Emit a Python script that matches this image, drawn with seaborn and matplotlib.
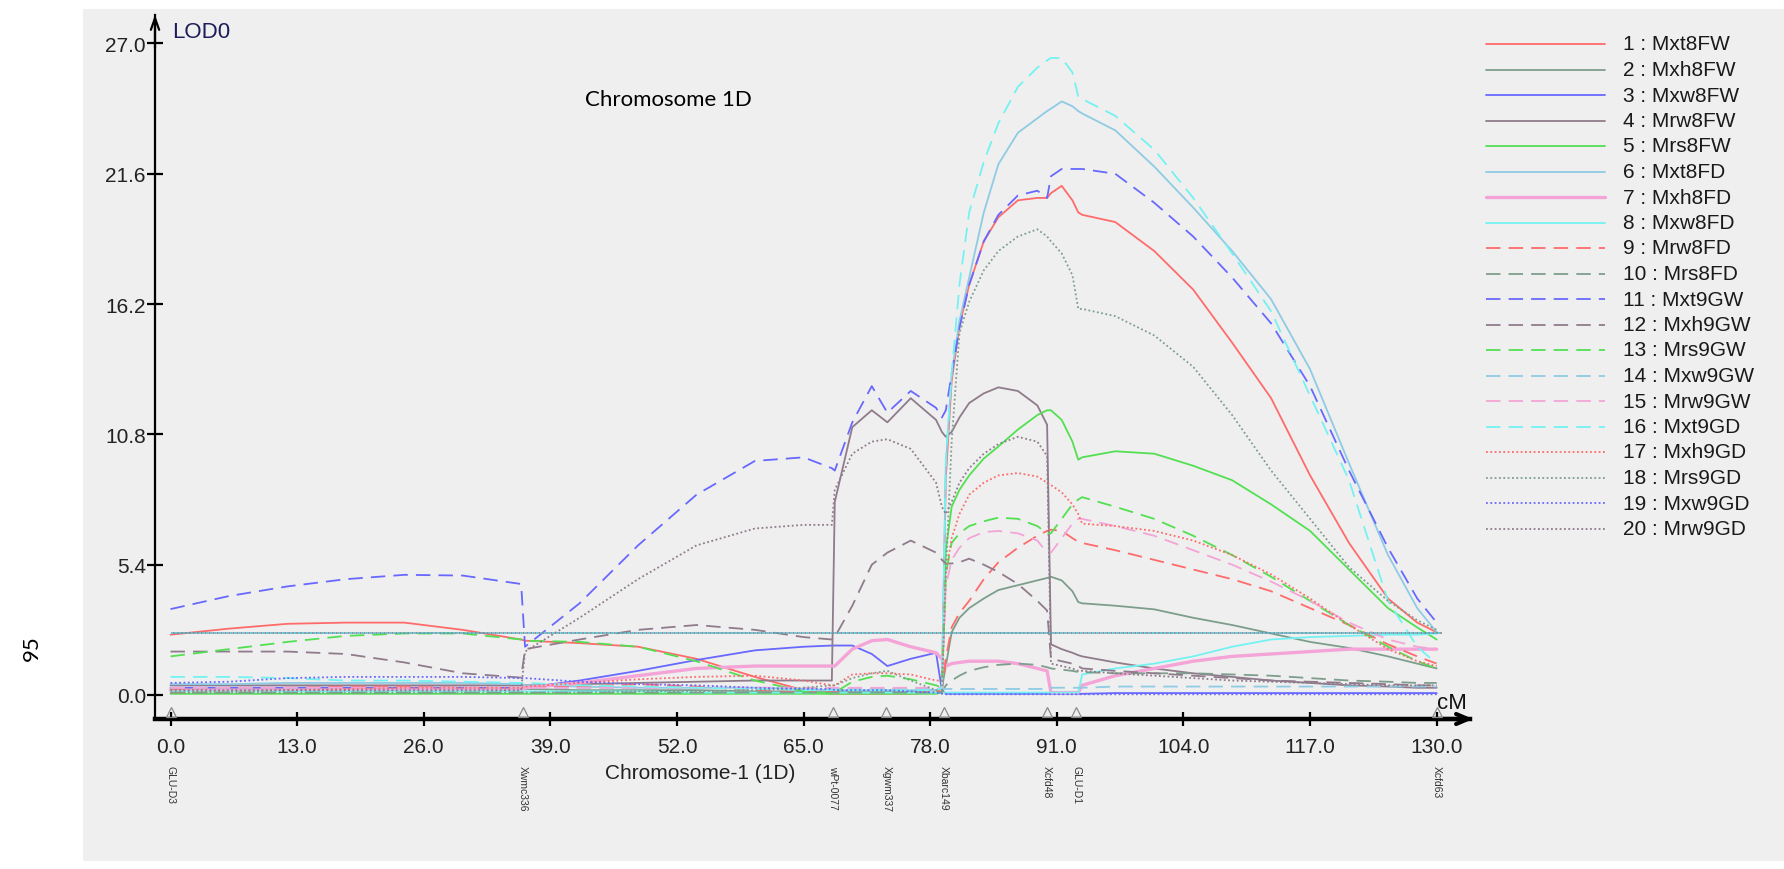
import matplotlib
matplotlib.use("Agg")
import numpy as np
import pandas as pd
import matplotlib.pyplot as plt
import seaborn as sns
from matplotlib.patches import Rectangle
from matplotlib.lines import Line2D

# ---------------- data ----------------
POS = [0, 6, 12, 18, 24, 30, 36, 36.4, 42, 48, 54, 60, 65, 67.9, 68.2, 70, 72, 73.6, 76, 78.6,
       79.2, 79.6, 80.2, 81, 82, 83.5, 85, 87, 89, 90, 90.4, 91.5, 92.6, 93.2, 93.6,
       97, 101, 105, 109, 113, 117, 121, 125, 128, 130]

mxt8fw = [2.5, 2.75, 2.95, 3.0, 3.0, 2.7, 2.3, 2.25, 2.15, 2.0, 1.5, 0.75, 0.2,
          0.05, 0.05, 0.05, 0.05, 0.05, 0.05, 0.1,
          0.3, 9.0, 13.0, 15.3, 17.0, 18.8, 19.8, 20.5, 20.6, 20.6, 20.8, 21.1, 20.5, 20.0, 19.9,
          19.6, 18.4, 16.8, 14.6, 12.3, 9.1, 6.3, 4.0, 3.0, 2.6]
mxh8fw = [0.25, 0.25, 0.3, 0.3, 0.3, 0.3, 0.25, 0.25, 0.2, 0.2, 0.2, 0.15, 0.15,
          0.15, 0.15, 0.15, 0.15, 0.15, 0.15, 0.2,
          0.3, 1.2, 2.6, 3.2, 3.6, 4.0, 4.35, 4.55, 4.75, 4.85, 4.9, 4.75, 4.3, 3.85, 3.8,
          3.7, 3.55, 3.2, 2.9, 2.55, 2.2, 1.95, 1.6, 1.3, 1.1]
mxw8fw = [0.3, 0.3, 0.3, 0.3, 0.3, 0.3, 0.3, 0.3, 0.6, 1.0, 1.45, 1.85, 2.0,
          2.05, 2.05, 2.05, 1.7, 1.2, 1.5, 1.75,
          0.2, 0.05, 0.05, 0.05, 0.05, 0.05, 0.05, 0.05, 0.05, 0.05, 0.05, 0.05, 0.05, 0.05, 0.05,
          0.08, 0.08, 0.08, 0.08, 0.08, 0.08, 0.08, 0.08, 0.08, 0.08]
mrw8fw = [0.4, 0.4, 0.4, 0.4, 0.4, 0.4, 0.4, 0.4, 0.45, 0.5, 0.55, 0.6, 0.6,
          0.6, 8.0, 11.1, 11.8, 11.3, 12.3, 11.4,
          10.9, 10.7, 10.9, 11.5, 12.1, 12.5, 12.75, 12.6, 12.0, 11.2, 2.1, 1.9, 1.75, 1.65, 1.6,
          1.35, 1.1, 0.9, 0.75, 0.6, 0.5, 0.4, 0.35, 0.3, 0.3]
mrs8fw = [0.05, 0.05, 0.05, 0.05, 0.05, 0.05, 0.05, 0.05, 0.05, 0.05, 0.05, 0.05, 0.05,
          0.05, 0.05, 0.05, 0.05, 0.05, 0.05, 0.05,
          0.1, 6.0, 7.8, 8.5, 9.1, 9.8, 10.3, 11.0, 11.6, 11.8, 11.8, 11.4, 10.5, 9.75, 9.85,
          10.1, 10.0, 9.5, 8.9, 7.9, 6.8, 5.2, 3.6, 2.8, 2.3]
mxt8fd = [0.45, 0.45, 0.5, 0.5, 0.5, 0.5, 0.45, 0.4, 0.35, 0.3, 0.3, 0.3, 0.25,
          0.2, 0.2, 0.2, 0.2, 0.2, 0.2, 0.2,
          0.3, 9.5, 13.3, 15.5, 17.3, 20.0, 22.0, 23.3, 23.9, 24.2, 24.3, 24.6, 24.4, 24.2, 24.1,
          23.4, 21.9, 20.2, 18.4, 16.4, 13.5, 9.6, 5.8, 3.6, 2.6]
mxh8fd = [0.2, 0.2, 0.2, 0.2, 0.2, 0.2, 0.2, 0.3, 0.5, 0.8, 1.1, 1.2, 1.2,
          1.2, 1.2, 1.9, 2.25, 2.3, 2.0, 1.75,
          1.5, 1.2, 1.3, 1.35, 1.4, 1.4, 1.4, 1.3, 1.1, 1.0, 0.1, 0.1, 0.1, 0.1, 0.4,
          0.8, 1.1, 1.4, 1.6, 1.7, 1.8, 1.9, 1.9, 1.9, 1.9]
mxw8fd = [0.15, 0.15, 0.15, 0.15, 0.15, 0.15, 0.15, 0.15, 0.15, 0.15, 0.1, 0.1, 0.1,
          0.1, 0.1, 0.1, 0.1, 0.1, 0.1, 0.1,
          0.1, 0.1, 0.1, 0.1, 0.1, 0.1, 0.1, 0.1, 0.1, 0.1, 0.1, 0.1, 0.1, 0.1, 0.85,
          1.1, 1.3, 1.6, 2.0, 2.3, 2.4, 2.45, 2.5, 2.5, 2.55]
mrw8fd = [0.25, 0.3, 0.3, 0.35, 0.35, 0.3, 0.3, 0.3, 0.35, 0.45, 0.35, 0.2, 0.15,
          0.15, 0.15, 0.2, 0.25, 0.25, 0.2, 0.15,
          0.15, 1.5, 2.8, 3.4, 3.9, 4.8, 5.5, 6.1, 6.6, 6.8, 6.85, 6.8, 6.5, 6.35, 6.3,
          6.0, 5.6, 5.2, 4.8, 4.3, 3.6, 2.9, 2.1, 1.6, 1.3]
mrs8fd = [0.1, 0.1, 0.1, 0.1, 0.1, 0.1, 0.1, 0.1, 0.1, 0.1, 0.1, 0.1, 0.1,
          0.1, 0.1, 0.1, 0.1, 0.1, 0.1, 0.1,
          0.1, 0.4, 0.6, 0.8, 1.0, 1.15, 1.25, 1.3, 1.25, 1.15, 1.1, 1.05, 1.0, 0.95, 0.95,
          0.9, 0.9, 0.9, 0.85, 0.8, 0.7, 0.6, 0.55, 0.5, 0.5]
mxt9gw = [3.56, 4.1, 4.5, 4.8, 4.98, 4.95, 4.6, 2.0, 3.8, 6.2, 8.3, 9.7, 9.85,
          9.4, 9.3, 11.3, 12.8, 11.7, 12.6, 11.9,
          11.5, 11.8, 13.3, 15.2, 17.0, 18.8, 19.9, 20.7, 20.9, 20.6, 21.5, 21.8, 21.8, 21.8, 21.8,
          21.6, 20.4, 19.0, 17.3, 15.4, 12.8, 9.3, 6.1, 4.0, 3.0]
mxh9gw = [1.8, 1.8, 1.8, 1.7, 1.35, 0.9, 0.72, 1.9, 2.3, 2.7, 2.9, 2.7, 2.4,
          2.3, 2.4, 3.7, 5.4, 5.9, 6.4, 5.9,
          5.6, 5.45, 5.45, 5.5, 5.65, 5.4, 5.1, 4.6, 3.9, 3.5, 1.5, 1.4, 1.3, 1.2, 1.1,
          1.0, 0.9, 0.8, 0.7, 0.6, 0.55, 0.5, 0.45, 0.4, 0.4]
mrs9gw = [1.6, 1.9, 2.2, 2.45, 2.55, 2.55, 2.3, 2.25, 2.2, 2.0, 1.4, 0.6, 0.15,
          0.05, 0.1, 0.55, 0.75, 0.8, 0.65, 0.4,
          0.3, 5.0, 6.3, 6.7, 7.0, 7.2, 7.35, 7.3, 7.0, 6.7, 6.7, 7.3, 7.9, 8.1, 8.2,
          7.8, 7.3, 6.6, 5.8, 4.9, 3.9, 2.9, 2.0, 1.4, 1.1]
mxw9gw = [0.3, 0.3, 0.3, 0.3, 0.3, 0.3, 0.3, 0.3, 0.3, 0.3, 0.3, 0.3, 0.3,
          0.25, 0.25, 0.25, 0.25, 0.25, 0.25, 0.25,
          0.25, 0.25, 0.25, 0.25, 0.25, 0.25, 0.25, 0.25, 0.25, 0.25, 0.3, 0.3, 0.3, 0.3, 0.3,
          0.35, 0.35, 0.35, 0.35, 0.35, 0.35, 0.35, 0.35, 0.35, 0.35]
mrw9gw = [0.3, 0.3, 0.3, 0.3, 0.3, 0.3, 0.3, 0.3, 0.3, 0.3, 0.3, 0.3, 0.3,
          0.3, 0.3, 0.3, 0.3, 0.3, 0.3, 0.3,
          0.3, 4.5, 5.6, 6.1, 6.5, 6.75, 6.8, 6.7, 6.4, 5.9, 5.9, 6.5, 7.1, 7.3, 7.3,
          7.0, 6.6, 6.0, 5.4, 4.7, 3.9, 3.0, 2.3, 2.0, 1.9]
mxt9gd = [0.75, 0.75, 0.7, 0.6, 0.6, 0.55, 0.5, 0.5, 0.4, 0.35, 0.3, 0.25, 0.2,
          0.2, 0.2, 0.2, 0.2, 0.2, 0.2, 0.2,
          0.3, 9.8, 13.3, 17.0, 20.0, 22.1, 23.7, 25.2, 26.0, 26.3, 26.4, 26.4, 25.8, 24.8, 24.7,
          24.0, 22.6, 20.6, 18.3, 15.9, 12.4, 8.9, 3.9, 2.0, 1.3]
mxh9gd = [0.1, 0.15, 0.2, 0.25, 0.3, 0.3, 0.3, 0.35, 0.5, 0.65, 0.75, 0.8, 0.6,
          0.4, 0.4, 0.85, 0.9, 0.9, 0.85, 0.6,
          0.6, 5.0, 6.5, 7.5, 8.3, 8.8, 9.1, 9.2, 9.05, 8.8, 8.7, 8.4, 7.9, 7.5, 7.1,
          7.0, 6.8, 6.4, 5.8, 5.0, 4.0, 2.9, 1.9, 1.4, 1.2]
mrs9gd = [0.1, 0.1, 0.1, 0.1, 0.1, 0.1, 0.1, 0.1, 0.1, 0.15, 0.15, 0.2, 0.3,
          0.4, 0.4, 0.7, 0.9, 1.0, 0.6, 0.2,
          0.1, 5.0, 10.5, 15.0, 16.3, 17.6, 18.4, 19.0, 19.3, 19.0, 18.8, 18.3, 17.4, 16.0, 16.0,
          15.7, 14.9, 13.6, 11.6, 9.3, 7.3, 5.3, 3.9, 3.1, 2.7]
mxw9gd = [0.5, 0.55, 0.7, 0.75, 0.75, 0.75, 0.7, 0.7, 0.55, 0.45, 0.4, 0.3, 0.25,
          0.25, 0.2, 0.2, 0.2, 0.2, 0.15, 0.1,
          0.05, 0.03, 0.03, 0.03, 0.03, 0.03, 0.03, 0.03, 0.03, 0.03, 0.03, 0.03, 0.03, 0.03, 0.03,
          0.03, 0.03, 0.03, 0.03, 0.03, 0.03, 0.03, 0.03, 0.03, 0.03]
mrw9gd = [0.2, 0.2, 0.2, 0.2, 0.2, 0.2, 0.2, 1.8, 3.2, 4.8, 6.2, 6.9, 7.05,
          7.05, 8.5, 10.0, 10.5, 10.6, 10.2, 8.8,
          7.8, 7.5, 8.0, 8.8, 9.4, 10.0, 10.4, 10.7, 10.5, 9.9, 1.3, 1.2, 1.1, 1.0, 1.0,
          0.9, 0.8, 0.7, 0.6, 0.55, 0.5, 0.45, 0.4, 0.4, 0.4]

TRAITS = ["Mxt8FW", "Mxh8FW", "Mxw8FW", "Mrw8FW", "Mrs8FW", "Mxt8FD", "Mxh8FD", "Mxw8FD",
          "Mrw8FD", "Mrs8FD", "Mxt9GW", "Mxh9GW", "Mrs9GW", "Mxw9GW", "Mrw9GW", "Mxt9GD",
          "Mxh9GD", "Mrs9GD", "Mxw9GD", "Mrw9GD"]
SERIES = [mxt8fw, mxh8fw, mxw8fw, mrw8fw, mrs8fw, mxt8fd, mxh8fd, mxw8fd,
          mrw8fd, mrs8fd, mxt9gw, mxh9gw, mrs9gw, mxw9gw, mrw9gw, mxt9gd,
          mxh9gd, mrs9gd, mxw9gd, mrw9gd]

THRESHOLD = 2.55
YTICKS = [0.0, 5.4, 10.8, 16.2, 21.6, 27.0]
XTICKS = [0, 13, 26, 39, 52, 65, 78, 91, 104, 117, 130]
MARKERS = ["GLU-D3", "Xwmc336", "wPt-0077", "Xgwm337", "Xbarc149", "Xcfd48", "GLU-D1", "Xcfd63"]
MARKER_POS = [0.0, 36.2, 68.0, 73.5, 79.4, 90.0, 93.0, 130.0]

# ---------------- style ----------------
RED, GGR, BLU, MAU, GRN, LBL, PNK, CYN = ('#ff6b6b', '#7d9e8c', '#6868ff', '#8f7b8b',
                                          '#52e052', '#8ecbe4', '#f4a4d6', '#74f2f2')
COLORS = [RED, GGR, BLU, MAU, GRN, LBL, PNK, CYN,
          RED, GGR, BLU, MAU, GRN, LBL, PNK, CYN,
          RED, GGR, BLU, MAU]
SOLID, DASH, DOT = '-', (0, (8, 4.5)), (0, (1, 1.4))
STYLES = [SOLID] * 8 + [DASH] * 8 + [DOT] * 4
WIDTHS = [1.3] * 20
WIDTHS[6] = 2.4

sns.set_theme(style="white")
plt.rcParams['font.family'] = ['Liberation Sans', 'DejaVu Sans']
FS = 15

W, H = 1784, 870
fig = plt.figure(figsize=(W / 100, H / 100), dpi=100)
fig.patch.set_facecolor('white')
bg = Rectangle((83 / W, 8 / H), 1 - 83 / W, (862 - 10) / H, transform=fig.transFigure,
               facecolor='#efefef', edgecolor='none', zorder=-10)
fig.add_artist(bg)

# axes: y-axis at px 155, x-axis at px 720
x0 = (155 - 170.5) / 9.74
x1 = (1470 - 170.5) / 9.74
y0 = (696 - 720) / 24.13
y1 = (696 - 15.5) / 24.13
ax = fig.add_axes([155 / W, (H - 720) / H, (1470 - 155) / W, (720 - 15.5) / H])
ax.set_zorder(5)
ax.set_facecolor('none')
ax.patch.set_alpha(0)

for name, vals, c, ls, lw in zip(TRAITS, SERIES, COLORS, STYLES, WIDTHS):
    df = pd.DataFrame({"cM": POS, "LOD": vals})
    sns.lineplot(data=df, x="cM", y="LOD", ax=ax, color=c, linestyle=ls, linewidth=lw,
                 sort=False, errorbar=None, legend=False)

ax.set_xlim(x0, x1)
ax.set_ylim(y0, y1)

# threshold line
ax.plot([POS[0], POS[-1] + 0.5], [THRESHOLD] * 2, color='#44c8d8', lw=1.3,
        linestyle=(0, (1, 1.2)), zorder=3)
ax.plot([POS[0], POS[-1] + 0.5], [THRESHOLD] * 2, color='#7f8a98', lw=1.3,
        linestyle=(1.1, (1, 1.2)), zorder=3)

# spines / axes
for s in ['top', 'right']:
    ax.spines[s].set_visible(False)
ax.spines['left'].set_visible(True)
ax.spines['bottom'].set_visible(True)
ax.spines['left'].set_color('black')
ax.spines['left'].set_linewidth(1.6)
ax.spines['bottom'].set_color('black')
ax.spines['bottom'].set_linewidth(3.2)
ax.annotate('', xy=(x0, y1 + 0.1), xytext=(x0, y1 - 1.5),
            arrowprops=dict(arrowstyle='->,head_length=0.7,head_width=0.25', lw=1.6, color='black'),
            annotation_clip=False)
ax.annotate('', xy=(x1 + 0.6, y0), xytext=(x1 - 4, y0),
            arrowprops=dict(arrowstyle='->,head_length=0.7,head_width=0.3', lw=3.0, color='black'),
            annotation_clip=False)

ax.set_yticks(YTICKS)
ax.set_yticklabels([f"{v:.1f}" for v in YTICKS])
ax.set_xticks(XTICKS)
ax.set_xticklabels([f"{v:.1f}" for v in XTICKS])
ax.tick_params(axis='y', direction='inout', length=12, width=1.6, pad=0.5,
               labelsize=FS, labelcolor='#222222', color='black', left=True)
ax.tick_params(axis='x', direction='inout', length=10, width=1.6, pad=8,
               labelsize=FS, labelcolor='#222222', color='black', bottom=True)
ax.set_xlabel("")
ax.set_ylabel("")
ax.grid(False)

# marker triangles and names
ax.plot(MARKER_POS, [y0 + 0.3] * len(MARKER_POS), linestyle='none', marker='^',
        mfc='none', mec='#8a8a8a', mew=0.9, ms=7, clip_on=False, zorder=5)
for name, p in zip(MARKERS, MARKER_POS):
    ax.annotate(name, xy=(p, y0), xytext=(0, -33), textcoords='offset points',
                rotation=-90, ha='center', va='top', fontsize=7.5, color='#333333',
                annotation_clip=False)

# texts
fig.text(172 / W, 1 - 33 / H, "LOD0", fontsize=FS + 1, color='#1c1c5a', ha='left', va='center')
fig.text(1452 / W, 1 - 704 / H, "cM", fontsize=FS + 1, color='#111111', ha='center', va='center')
fig.text(700 / W, 1 - 774 / H, "Chromosome-1 (1D)", fontsize=FS, color='#222222',
         ha='center', va='center')
fig.text(668 / W, 1 - 100 / H, "Chromosome 1D", fontsize=16, color='black',
         ha='center', va='center', family=['Lato', 'DejaVu Sans'])
fig.text(32 / W, 1 - 648 / H, "95", fontsize=16, color='black', rotation=90,
         ha='center', va='center', family=['Lato', 'DejaVu Sans'])

# legend (drawn manually to match spacing)
for i, (name, c, ls, lw) in enumerate(zip(TRAITS, COLORS, STYLES, WIDTHS)):
    yy = 1 - (45 + i * 25.5) / H
    fig.add_artist(Line2D([1486 / W, 1605 / W], [yy, yy], transform=fig.transFigure,
                          color=c, linestyle=ls, linewidth=lw))
    fig.text(1623 / W, yy, f"{i + 1} : {name}", fontsize=FS, color='#1a1a1a',
             ha='left', va='center')

fig.savefig("out.png", dpi=100, facecolor=fig.get_facecolor())
